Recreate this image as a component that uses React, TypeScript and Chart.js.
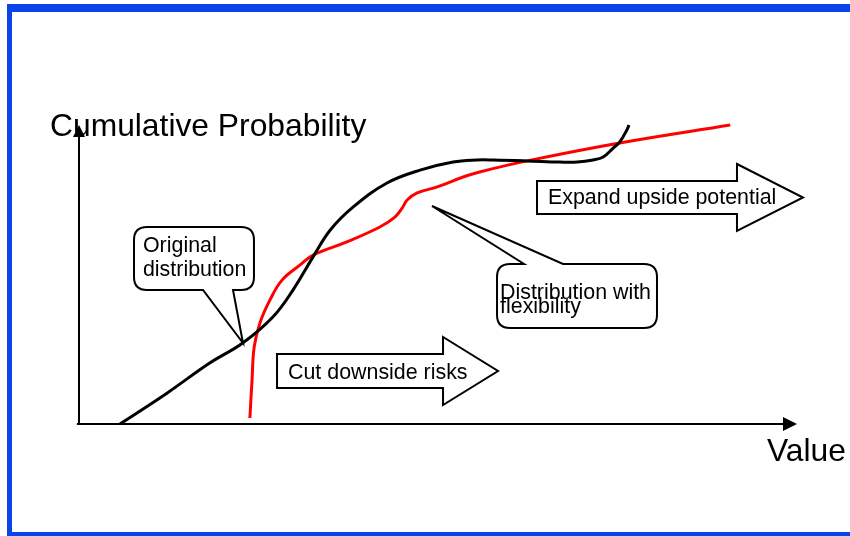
import { useEffect, useRef } from "react";
import { Chart, registerables } from "chart.js";

Chart.register(...registerables);

// ---- data (value axis 0..100, cumulative probability 0..100) ----
const originalX = [5.7, 12.3, 18.2, 22.8, 27.0, 29.8, 32.6, 35.0, 38.2, 42.9, 47.5, 52.1, 55.4, 57.7, 62.4, 67.0, 69.4, 71.6, 73.0, 74.4, 75.3, 76.3, 76.6];
const originalY = [0, 10.4, 20.4, 27.1, 35.8, 44.8, 55.9, 64.9, 72.6, 80.6, 84.9, 87.6, 88.3, 88.3, 88.0, 87.6, 87.6, 88.3, 89.3, 92.3, 94.3, 98.3, 100];

const flexX = [23.8, 24.1, 24.4, 25.2, 26.6, 28.3, 30.8, 32.6, 37.3, 41.9, 44.0, 45.0, 45.7, 47.1, 49.9, 53.5, 55.8, 62.4, 75.3, 90.7];
const flexY = [2.0, 14.7, 25.8, 33.8, 41.5, 48.2, 53.2, 56.5, 60.9, 65.9, 69.2, 72.2, 74.9, 77.3, 79.3, 82.6, 84.3, 88.0, 94.0, 100];

const seriesNames = ["Original distribution", "Distribution with flexibility"];
const yAxisTitle = "Cumulative Probability";
const xAxisTitle = "Value";
const calloutOriginal = ["Original", "distribution"];
const calloutFlex = ["Distribution with", "flexibility"];
const upsideLabel = "Expand upside potential";
const downsideLabel = "Cut downside risks";

// ---- annotation layout (in data units of the two scales) ----
const layoutOriginal = { l: 7.66, r: 24.37, t: 65.89, b: 44.82, b1: 17.27, b2: 21.45, tx: 22.84, ty: 27.09, textX: 8.91, lines: [57.53, 49.5] };
const layoutFlex = { l: 58.22, r: 80.5, t: 53.51, b: 32.11, b1: 61.98, b2: 67.41, tx: 49.16, ty: 72.91, textX: 58.64, lines: [41.81, 37.12] };
const layoutUp = { l: 63.79, t: 81.27, b: 70.23, hx: 91.64, ht: 86.96, hb: 64.55, tx: 100.84, ty: 75.75, textX: 65.32, base: 73.58 };
const layoutDown = { l: 27.58, t: 23.41, b: 12.04, hx: 50.7, ht: 29.1, hb: 6.35, tx: 58.36, ty: 17.73, textX: 29.11, base: 15.05 };
const yTitlePos = { x: -4.04, y: 96.32 };
const xTitlePos = { x: 95.82, y: -12.37 };

const FONT = '"Liberation Sans", Arial, Helvetica, sans-serif';

function toPoints(xs: number[], ys: number[]) {
  return xs.map((x, i) => ({ x, y: ys[i] }));
}

const decoPlugin = {
  id: "deco",
  beforeDraw(chart: any) {
    const ctx = chart.ctx;
    ctx.save();
    ctx.fillStyle = "#ffffff";
    ctx.fillRect(0, 0, chart.width, chart.height);
    ctx.restore();
  },
  afterDatasetsDraw(chart: any) {
    const ctx: CanvasRenderingContext2D = chart.ctx;
    const X = (v: number) => chart.scales.x.getPixelForValue(v);
    const Y = (v: number) => chart.scales.y.getPixelForValue(v);
    ctx.save();

    // axis titles
    ctx.fillStyle = "#000";
    ctx.textBaseline = "alphabetic";
    ctx.font = `31.8px ${FONT}`;
    ctx.fillText(yAxisTitle, X(yTitlePos.x), Y(yTitlePos.y));
    ctx.fillText(xAxisTitle, X(xTitlePos.x), Y(xTitlePos.y));

    // axes with arrows
    ctx.strokeStyle = "#000";
    ctx.lineWidth = 2;
    ctx.beginPath();
    ctx.moveTo(X(0), Y(0));
    ctx.lineTo(X(0), Y(100) + 8);
    ctx.moveTo(X(-0.3), Y(0));
    ctx.lineTo(X(100) - 8, Y(0));
    ctx.stroke();
    ctx.fillStyle = "#000";
    ctx.beginPath();
    ctx.moveTo(X(0), Y(100));
    ctx.lineTo(X(0) - 6, Y(100) + 12);
    ctx.lineTo(X(0) + 6, Y(100) + 12);
    ctx.closePath();
    ctx.fill();
    ctx.beginPath();
    ctx.moveTo(X(100), Y(0));
    ctx.lineTo(X(100) - 14, Y(0) - 7);
    ctx.lineTo(X(100) - 14, Y(0) + 7);
    ctx.closePath();
    ctx.fill();

    // callouts
    const callout = (c: any, side: "top" | "bottom", lines: string[]) => {
      const x1 = X(c.l), x2 = X(c.r), y1 = Y(c.t), y2 = Y(c.b);
      const r = 13;
      ctx.beginPath();
      ctx.moveTo(x1 + r, y1);
      if (side === "top") {
        ctx.lineTo(X(c.b1), y1);
        ctx.lineTo(X(c.tx), Y(c.ty));
        ctx.lineTo(X(c.b2), y1);
      }
      ctx.lineTo(x2 - r, y1);
      ctx.quadraticCurveTo(x2, y1, x2, y1 + r);
      ctx.lineTo(x2, y2 - r);
      ctx.quadraticCurveTo(x2, y2, x2 - r, y2);
      if (side === "bottom") {
        ctx.lineTo(X(c.b2), y2);
        ctx.lineTo(X(c.tx), Y(c.ty));
        ctx.lineTo(X(c.b1), y2);
      }
      ctx.lineTo(x1 + r, y2);
      ctx.quadraticCurveTo(x1, y2, x1, y2 - r);
      ctx.lineTo(x1, y1 + r);
      ctx.quadraticCurveTo(x1, y1, x1 + r, y1);
      ctx.closePath();
      ctx.fillStyle = "#fff";
      ctx.fill();
      ctx.lineWidth = 2;
      ctx.strokeStyle = "#000";
      ctx.lineJoin = "miter";
      ctx.stroke();
      ctx.fillStyle = "#000";
      ctx.font = `21.4px ${FONT}`;
      lines.forEach((t, i) => ctx.fillText(t, X(c.textX), Y(c.lines[i])));
    };
    callout(layoutOriginal, "bottom", calloutOriginal);
    callout(layoutFlex, "top", calloutFlex);

    // block arrows
    const block = (a: any, label: string) => {
      ctx.beginPath();
      ctx.moveTo(X(a.l), Y(a.t));
      ctx.lineTo(X(a.hx), Y(a.t));
      ctx.lineTo(X(a.hx), Y(a.ht));
      ctx.lineTo(X(a.tx), Y(a.ty));
      ctx.lineTo(X(a.hx), Y(a.hb));
      ctx.lineTo(X(a.hx), Y(a.b));
      ctx.lineTo(X(a.l), Y(a.b));
      ctx.closePath();
      ctx.fillStyle = "#fff";
      ctx.fill();
      ctx.lineWidth = 2;
      ctx.strokeStyle = "#000";
      ctx.stroke();
      ctx.fillStyle = "#000";
      ctx.font = `21.4px ${FONT}`;
      ctx.fillText(label, X(a.textX), Y(a.base));
    };
    block(layoutUp, upsideLabel);
    block(layoutDown, downsideLabel);

    ctx.restore();
  },
  afterDraw(chart: any) {
    const ctx = chart.ctx;
    ctx.save();
    ctx.fillStyle = "#0a43e8";
    ctx.fillRect(7, 4, chart.width - 7, 8);
    ctx.fillRect(7, 4, 5, chart.height - 4);
    ctx.fillRect(7, chart.height - 4, chart.width - 7, 4);
    ctx.restore();
  },
};

export default function App() {
  const ref = useRef<HTMLCanvasElement | null>(null);
  useEffect(() => {
    if (!ref.current) return;
    const chart = new Chart(ref.current, {
      type: "line",
      data: {
        datasets: [
          {
            label: seriesNames[0],
            data: toPoints(originalX, originalY),
            borderColor: "#000000",
            borderWidth: 3,
            pointRadius: 0,
            tension: 0.4,
            fill: false,
            clip: false as any,
          },
          {
            label: seriesNames[1],
            data: toPoints(flexX, flexY),
            borderColor: "#ff0000",
            borderWidth: 3,
            pointRadius: 0,
            tension: 0.4,
            fill: false,
            clip: false as any,
          },
        ],
      },
      options: {
        animation: false,
        responsive: false,
        devicePixelRatio: 1,
        layout: { padding: { left: 79, right: 53, top: 125, bottom: 112 } },
        plugins: { legend: { display: false }, tooltip: { enabled: false } },
        events: [],
        scales: {
          x: { type: "linear", min: 0, max: 100, display: false },
          y: { type: "linear", min: 0, max: 100, display: false },
        },
      },
      plugins: [decoPlugin],
    });
    return () => chart.destroy();
  }, []);
  return (
    <div style={{ position: "fixed", left: 0, top: 0, width: 850, height: 536, background: "#fff" }}>
      <canvas ref={ref} width={850} height={536} style={{ display: "block" }} />
    </div>
  );
}
